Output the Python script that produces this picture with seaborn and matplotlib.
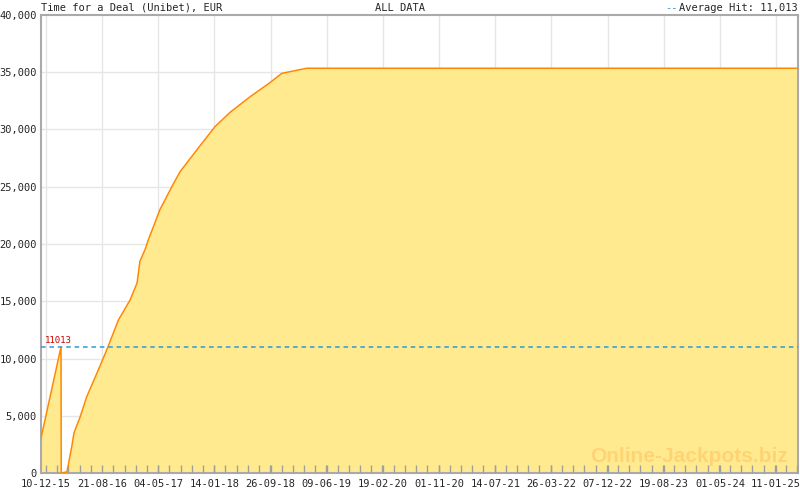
import pandas as pd
import matplotlib.pyplot as plt
import seaborn as sns

# jackpot amount over time
dates = ["2015-11-17", "2016-02-16", "2016-02-17", "2016-03-14", "2016-04-05", "2016-04-15",
         "2016-05-13", "2016-06-12", "2016-07-28", "2016-09-11", "2016-11-03", "2016-12-26",
         "2017-01-27", "2017-02-09", "2017-03-04", "2017-03-19", "2017-05-11", "2017-07-04",
         "2017-08-10", "2017-10-25", "2018-01-16", "2018-03-26", "2018-06-25", "2018-09-24",
         "2018-11-16", "2019-03-09", "2025-04-21"]
amounts = [3030, 11013, 0, 100, 2300, 3500,
           4900, 6660, 8700, 10740, 13360, 15100,
           16600, 18500, 19500, 20350, 23000, 25000,
           26300, 28200, 30240, 31500, 32860, 34100,
           34900, 35350, 35350]
tick_labels = ["10-12-15", "21-08-16", "04-05-17", "14-01-18", "26-09-18", "09-06-19", "19-02-20",
               "01-11-20", "14-07-21", "26-03-22", "07-12-22", "19-08-23", "01-05-24", "11-01-25"]
avg_hit = 11013

df = pd.DataFrame({"date": pd.to_datetime(dates), "amount": amounts})

sns.set_style("white")
plt.rcParams['font.family'] = ['DejaVu Sans Mono']

fig = plt.figure(figsize=(8, 4.9), dpi=100)
ax = fig.add_axes([41/800, 17/490, 757/800, 458/490])

ticks = pd.to_datetime(tick_labels, format="%d-%m-%y")
yvals = list(range(0, 40001, 5000))
# grid drawn by hand so the ticks can sit above the fill
for t in ticks:
    ax.axvline(t, color="#E6E6E6", linewidth=1, zorder=0.3)
for v in yvals[1:-1]:
    ax.axhline(v, color="#E6E6E6", linewidth=1, zorder=0.3)

ax.fill_between(df["date"], 0, df["amount"], color="#FFEA90", zorder=1, linewidth=0)
sns.lineplot(data=df, x="date", y="amount", color="#FF8800", linewidth=1.1, ax=ax, zorder=3)
ax.axhline(avg_hit, color="#2A9BDB", linestyle=(0, (3, 2.5)), linewidth=1.1, zorder=4)
ax.text(pd.Timestamp("2015-12-05"), avg_hit + 300, "11013", color="#CC0000", fontsize=6.5, zorder=5)

ax.set_xticks(ticks)
ax.set_xticklabels(tick_labels, fontsize=7.5)
minor = pd.date_range(ticks[0], periods=14 * 5, freq="51D")
ax.set_xticks(minor, minor=True)
ax.set_xlim(pd.Timestamp("2015-11-17"), pd.Timestamp("2025-04-21"))
ax.set_ylim(0, 40000)
ax.set_yticks(yvals)
ax.set_yticklabels([f"{v:,}" for v in yvals], fontsize=7.5)
ax.tick_params(axis="x", which="both", direction="in", length=6, width=1,
               color="#A0A0A0", pad=4, bottom=True)
ax.tick_params(axis="y", length=0, pad=3)
ax.set_axisbelow(False)
for s in ax.spines.values():
    s.set_color("#AAAAAA")
    s.set_linewidth(1.5)
ax.set_xlabel("")
ax.set_ylabel("")

fig.text(41/800, 1 - 8/490, "Time for a Deal (Unibet), EUR", fontsize=7.5, va="center", ha="left")
fig.text(0.5, 1 - 8/490, "ALL DATA", fontsize=7.5, va="center", ha="center")
fig.text(798/800, 1 - 8/490, "Average Hit: 11,013", fontsize=7.5, va="center", ha="right")
fig.text(678/800, 1 - 8/490, "--", fontsize=7.5, va="center", ha="right", color="#2A9BDB")
ax.text(0.987, 0.015, "Online-Jackpots.biz", transform=ax.transAxes, ha="right", va="bottom",
        fontsize=15, fontweight="bold", family="Liberation Sans", color="#FFD070", alpha=0.85, zorder=6)

fig.savefig("out.png", dpi=100)
